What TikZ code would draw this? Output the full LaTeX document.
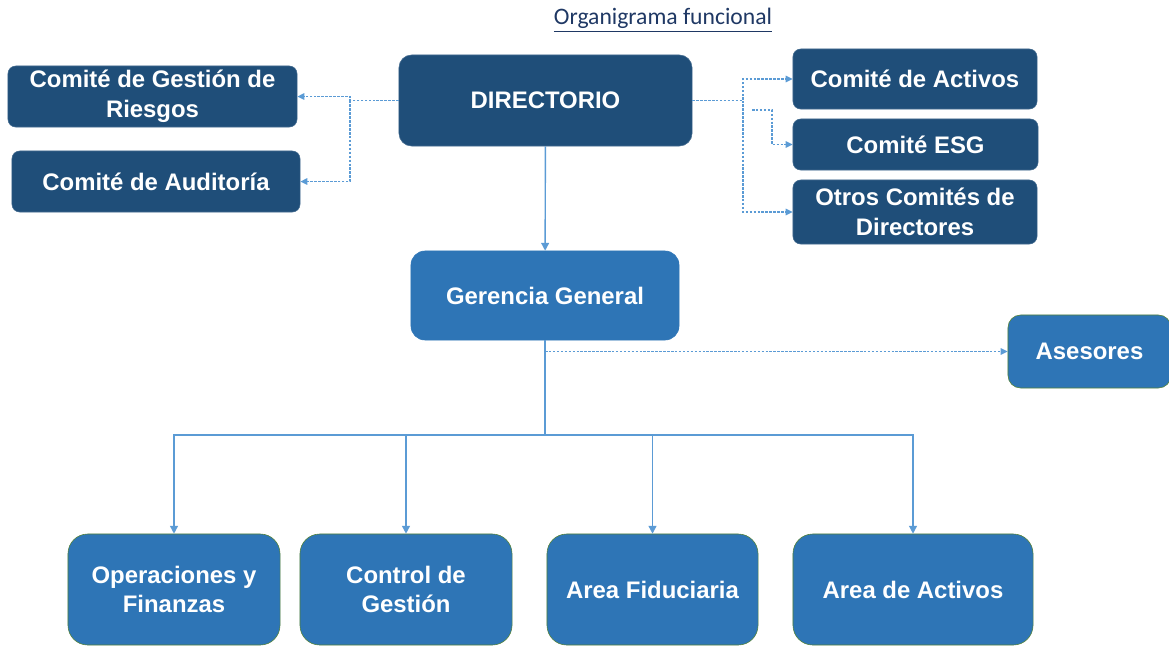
\documentclass[tikz,border=0pt]{standalone}
\usepackage{fontspec}
\setmainfont{Liberation Sans}
\newfontfamily\titlefont{Carlito}
\usepackage{tikz}
\usetikzlibrary{arrows.meta}
\usepackage{xcolor}
\definecolor{navyblue}{RGB}{31, 78, 121}
\definecolor{midblue}{RGB}{46, 117, 182}
\definecolor{lineblue}{RGB}{91, 155, 213}
\definecolor{bordergreen}{RGB}{84, 130, 53}
\definecolor{titleblue}{RGB}{31, 56, 100}

\begin{document}
\begin{tikzpicture}[
        x=0.025cm, y=-0.025cm,
        % Node styles
        committee/.style={draw=navyblue!85!white, fill=navyblue, thin, rounded corners=5.5pt, text=white, align=center, inner sep=0pt, font=\bfseries\fontsize{17}{21}\selectfont},
        board/.style={committee, rounded corners=9pt, minimum width=7.325cm, minimum height=2.275cm},
        manager/.style={draw=midblue, fill=midblue, thin, rounded corners=10pt, text=white, align=center, inner sep=0pt, minimum width=6.7cm, minimum height=2.225cm, font=\bfseries\fontsize{17}{21}\selectfont},
        area/.style={draw=bordergreen, fill=midblue, thin, rounded corners=14pt, text=white, align=center, inner sep=0pt, minimum height=2.775cm, font=\bfseries\fontsize{17}{21}\selectfont},
        % Connector styles
        solidarrow/.style={draw=lineblue, line width=1pt, -{Triangle[length=5.5pt, width=5.5pt]}},
        dotarrow/.style={draw=lineblue, line width=1.3pt, dash pattern=on 1.8pt off 1pt, -{Triangle[length=5pt, width=4.5pt]}}
    ]
    \useasboundingbox (0,0) rectangle (1169,646);

    % Title
    \node[text=titleblue, font=\titlefont\fontsize{16.8}{20}\selectfont] (title) at (663,20) {\underline{Organigrama funcional}};

    % Board and committees
    \node[board] (directorio) at (545.5,100.5) {DIRECTORIO};
    \node[committee, minimum width=7.225cm, minimum height=1.525cm] (riesgos) at (152.5,96.5) {Comité de Gestión de\\Riesgos};
    \node[committee, minimum width=7.2cm, minimum height=1.525cm] (auditoria) at (156,181.5) {Comité de Auditoría};
    \node[committee, minimum width=6.1cm, minimum height=1.5cm] (activos) at (915,79) {Comité de Activos};
    \node[committee, minimum width=6.125cm, minimum height=1.275cm] (esg) at (915.5,144.5) {Comité ESG};
    \node[committee, minimum width=6.1cm, minimum height=1.6cm] (otros) at (915,212) {Otros Comités de\\Directores};

    % General management and advisors
    \node[manager] (gerencia) at (545,295.5) {Gerencia General};
    \node[area, rounded corners=9pt, minimum width=4.075cm, minimum height=1.825cm] (asesores) at (1089.5,351.5) {Asesores};

    % Areas
    \node[area, minimum width=5.3cm] (operaciones) at (174,589.5) {Operaciones y\\Finanzas};
    \node[area, minimum width=5.3cm] (control) at (406,589.5) {Control de\\Gestión};
    \node[area, minimum width=5.275cm] (fiduciaria) at (652.5,589.5) {Area Fiduciaria};
    \node[area, minimum width=6cm] (areaactivos) at (913,589.5) {Area de Activos};

    % Joints
    \coordinate (leftjoint) at (350,0);
    \coordinate (rightjoint) at (743,0);
    \coordinate (esgstart) at (752,110);
    \coordinate (esgbend) at (772,110);
    \coordinate (bus) at (545,435);

    % Committee arrows (dotted)
    \draw[dotarrow] (directorio.west) -- (directorio.west -| leftjoint) |- (riesgos.east);
    \draw[dotarrow] (directorio.west -| leftjoint) |- (auditoria.east);
    \draw[dotarrow] (directorio.east) -- (directorio.east -| rightjoint) |- (activos.west);
    \draw[dotarrow] (directorio.east -| rightjoint) |- (otros.west);
    \draw[dotarrow] (esgstart) -- (esgbend) |- (esg.west);

    % Line of command
    \draw[solidarrow] (directorio) -- (gerencia);
    \draw[draw=lineblue, line width=1pt] (gerencia) -- (bus);
    \draw[dotarrow] (gerencia.south |- asesores) -- (asesores.west);
    \draw[solidarrow] (bus) -| (operaciones.north);
    \draw[solidarrow] (bus) -| (control.north);
    \draw[solidarrow] (bus) -| (fiduciaria.north);
    \draw[solidarrow] (bus) -| (areaactivos.north);

\end{tikzpicture}
\end{document}
